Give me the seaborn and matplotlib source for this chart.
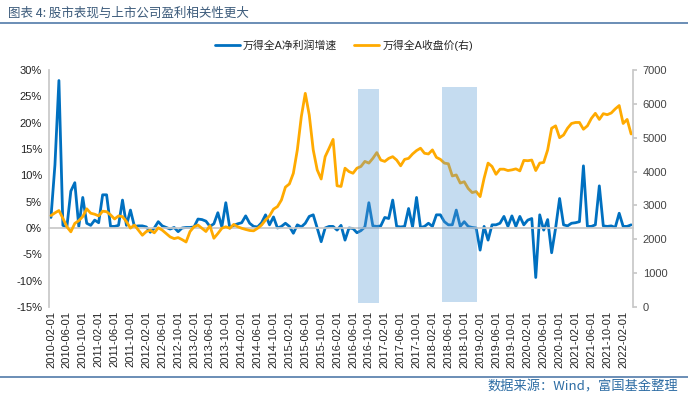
import matplotlib
matplotlib.use("Agg")
import matplotlib.pyplot as plt
from matplotlib.lines import Line2D
import pandas as pd
import seaborn as sns

# monthly data, 2010-02 .. 2022-04
months = pd.date_range("2010-02-01", periods=147, freq="MS").strftime("%Y-%m-%d").tolist()

profit_growth = [
    2.0, 12.0, 28.0, 0.5, 0.2, 7.0, 8.6, 0.3, 5.8, 0.9,
    0.5, 1.5, 1.0, 6.3, 6.3, 0.3, 0.3, 0.5, 5.3, 0.5,
    3.4, 0.3, 0.4, 0.4, 0.2, -0.8, 0.0, 1.2, 0.4, 0.1,
    -0.2, 0.1, -0.7, 0.0, 0.1, 0.1, 0.2, 1.7, 1.6, 1.3,
    0.3, 0.8, 2.9, 0.2, 4.8, 0.0, 0.5, 0.8, 1.0, 2.3,
    0.9, 0.3, 0.2, 1.0, 2.5, 0.6, 2.1, 0.0, 0.3, 0.9,
    0.3, -1.0, 0.6, 0.2, 0.9, 2.2, 2.5, 0.0, -2.6, 0.0,
    0.3, 0.3, -0.4, 0.5, -2.3, 0.0, -0.1, -0.9, -0.5, 0.2,
    4.8, 0.4, 0.3, 0.4, 2.0, 1.8, 5.3, 0.3, 0.2, 0.3,
    3.7, 0.2, 5.8, 0.1, 0.3, 0.9, 0.3, 2.5, 2.5, 1.2,
    0.6, 0.6, 3.4, 0.3, 1.2, 0.3, 0.1, 0.0, -4.2, 0.3,
    -2.3, 0.6, 0.6, 0.9, 2.2, 0.3, 2.3, 0.3, 2.2, 0.6,
    1.5, 1.8, -9.4, 2.5, -0.4, 1.6, -4.7, 0.0, 5.6, 0.6,
    0.4, 0.9, 1.0, 1.2, 11.8, 0.3, 0.3, 0.6, 8.0, 0.4,
    0.3, 0.4, 0.1, 2.8, 0.3, 0.3, 0.6,
]

close_price = [
    2700, 2780, 2850, 2620, 2370, 2220, 2470, 2550, 2670, 2900,
    2770, 2740, 2690, 2830, 2815, 2720, 2600, 2690, 2670, 2520,
    2330, 2420, 2270, 2120, 2230, 2270, 2190, 2340, 2270, 2170,
    2070, 2020, 2050, 1990, 1920, 2230, 2370, 2420, 2325, 2230,
    2400, 2030, 2170, 2325, 2370, 2325, 2440, 2370, 2325, 2290,
    2260, 2250, 2325, 2420, 2570, 2690, 2890, 2965, 3160, 3540,
    3635, 3950, 4640, 5620, 6310, 5670, 4640, 4050, 3780, 4440,
    4690, 4950, 3580, 3560, 4100, 4000, 3950, 4100, 4150, 4300,
    4250, 4390, 4560, 4340, 4300, 4390, 4440, 4340, 4170, 4360,
    4390, 4520, 4620, 4690, 4540, 4520, 4640, 4420, 4360, 4250,
    4230, 3870, 3900, 3660, 3700, 3500, 3380, 3410, 3260, 3800,
    4250, 4150, 3920, 4070, 4070, 4030, 4050, 4080, 4020, 4330,
    4320, 4340, 4030, 4250, 4270, 4640, 5280, 5350, 5000, 5080,
    5280, 5420, 5450, 5450, 5250, 5350, 5570, 5720, 5540, 5710,
    5680, 5730, 5850, 5950, 5420, 5540, 5110,
]

# highlighted periods (category positions) and their heights on the right axis
span_start = [77.3, 98.5]
span_end = [82.6, 107.1]
span_top = [6440, 6500]
span_bottom = [120, 150]

left_ticks = [-15, -10, -5, 0, 5, 10, 15, 20, 25, 30]
right_ticks = [0, 1000, 2000, 3000, 4000, 5000, 6000, 7000]

df = pd.DataFrame({"idx": range(len(months)), "month": months,
                   "profit": profit_growth, "price": close_price})

sns.set_theme(style="white")
plt.rcParams["font.family"] = ["Liberation Sans", "Noto Sans CJK SC", "DejaVu Sans"]

BLUE = "#0070C0"
GOLD = "#FFAA00"
AXIS = "#C8C8C8"

fig = plt.figure(figsize=(6.88, 3.97), dpi=100)
ax = fig.add_axes([0.0712, 0.2267, 0.849, 0.597])
ax2 = ax.twinx()

sns.lineplot(data=df, x="idx", y="profit", ax=ax, color=BLUE, linewidth=2.0,
             label="万得全A净利润增速", legend=False,
             solid_joinstyle="round", solid_capstyle="round")
sns.lineplot(data=df, x="idx", y="price", ax=ax2, color=GOLD, linewidth=2.0,
             label="万得全A收盘价(右)", legend=False,
             solid_joinstyle="round", solid_capstyle="round")

for x0, x1, b, t in zip(span_start, span_end, span_bottom, span_top):
    ax2.fill_between([x0, x1], [b, b], [t, t], color="#5B9BD5", alpha=0.35,
                     linewidth=0, zorder=5)

n = len(months)
ax.set_xlim(-0.5, n - 0.5)
ax.set_ylim(-15, 30)
ax2.set_ylim(0, 7000)

ax.set_yticks(left_ticks)
ax.set_yticklabels([f"{v}%" for v in left_ticks])
ax2.set_yticks(right_ticks)
ax2.set_yticklabels([str(v) for v in right_ticks])

xt = list(range(0, n, 4))
ax.set_xticks(xt)
ax.spines["bottom"].set_position(("data", 0))
ax.tick_params(axis="x", length=3, color=AXIS, labelbottom=False, direction="out", width=0.8)
ax.tick_params(axis="y", length=0, labelsize=8, labelcolor="#222222", pad=5)
ax2.tick_params(axis="y", length=3, color=AXIS, labelsize=8, labelcolor="#444444", pad=4)

sec = ax.secondary_xaxis("bottom")
sec.set_xticks(xt)
sec.set_xticklabels([months[i] for i in xt], rotation=90, fontsize=8, color="#222222")
sec.tick_params(length=0, pad=3)
sec.spines["bottom"].set_visible(False)

for s in ["top", "right"]:
    ax.spines[s].set_visible(False)
for s in ["top", "bottom", "left"]:
    ax2.spines[s].set_visible(False)
ax.spines["left"].set_color(AXIS)
ax.spines["bottom"].set_color(AXIS)
ax2.spines["right"].set_color(AXIS)
for a in (ax, ax2):
    a.set_xlabel("")
    a.set_ylabel("")
    a.grid(False)

h1, l1 = ax.get_legend_handles_labels()
h2, l2 = ax2.get_legend_handles_labels()
fig.legend(h1 + h2, l1 + l2, loc="center", bbox_to_anchor=(0.5, 0.887), ncol=2,
           frameon=False, fontsize=7.8, handlelength=2.3, columnspacing=1.6,
           handletextpad=0.3)

# header and footer
fig.text(0.012, 0.966, "图表 4: 股市表现与上市公司盈利相关性更大", fontsize=9,
         color="#3B5A7A", style="italic", ha="left", va="center",
         family=["Noto Sans CJK SC", "DejaVu Sans"])
fig.add_artist(Line2D([0, 1], [0.942, 0.942], transform=fig.transFigure,
                      color="#6A8DB5", linewidth=1.4))
fig.add_artist(Line2D([0, 1], [0.050, 0.050], transform=fig.transFigure,
                      color="#6A8DB5", linewidth=1.4))
fig.text(0.985, 0.024, "数据来源：Wind，富国基金整理", fontsize=9.5,
         color="#2E6DA4", ha="right", va="center",
         family=["Noto Sans CJK SC", "DejaVu Sans"])

fig.savefig("out.png", dpi=100)
